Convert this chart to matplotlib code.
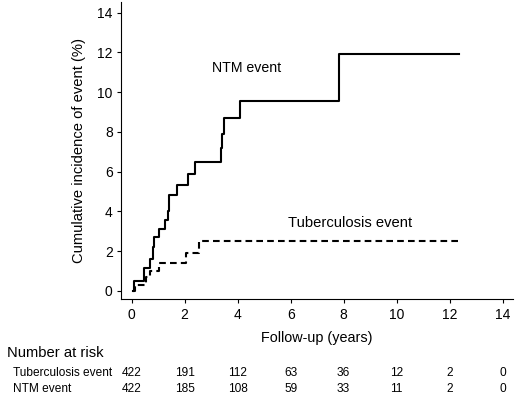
import numpy as np
import matplotlib
matplotlib.use("Agg")
import matplotlib.pyplot as plt

plt.rcParams['font.family'] = ['Liberation Sans', 'DejaVu Sans']

# step curves (years, %)
ntm_t = [0.05, 0.10, 0.475, 0.69, 0.80, 0.85, 1.04, 1.25, 1.375, 1.42, 1.71, 2.125, 2.41, 3.375, 3.42, 3.47, 4.09, 7.83, 12.34]
ntm_y = [0.0, 0.50, 1.17, 1.59, 2.20, 2.70, 3.12, 3.54, 4.00, 4.84, 5.35, 5.90, 6.48, 7.20, 7.90, 8.69, 9.56, 11.94, 11.94]

tb_t = [0.05, 0.125, 0.56, 0.69, 1.04, 2.04, 2.54, 12.34]
tb_y = [0.0, 0.30, 0.70, 1.00, 1.40, 1.92, 2.50, 2.50]

# number at risk table
risk_times = [0, 2, 4, 6, 8, 10, 12, 14]
risk_tb = [422, 191, 112, 63, 36, 12, 2, 0]
risk_ntm = [422, 185, 108, 59, 33, 11, 2, 0]

fig = plt.figure(figsize=(5.2, 3.96), dpi=100)
ax = fig.add_axes([121/520, 1 - 299.3/396, (513 - 121)/520, (299.3 - 2)/396])

ax.plot(ntm_t, ntm_y, drawstyle='steps-post', color='black', lw=1.5)
ax.plot(tb_t, tb_y, drawstyle='steps-post', color='black', lw=1.5,
        linestyle=(0, (3.2, 2.0)))

ax.text(3.02, 11.2, "NTM event", fontsize=10.2, va='center', ha='left')
ax.text(5.9, 3.42, "Tuberculosis event", fontsize=10.6, va='center', ha='left')

ax.set_xlim(-0.4, 14.39)
ax.set_ylim(-0.43, 14.54)
ax.set_xticks(np.arange(0, 15, 2))
ax.set_yticks(np.arange(0, 15, 2))
ax.tick_params(direction='out', length=3, width=0.8, labelsize=10, pad=3)
for s in ['top', 'right']:
    ax.spines[s].set_visible(False)
for s in ['left', 'bottom']:
    ax.spines[s].set_linewidth(0.8)

ax.set_ylabel("Cumulative incidence of event (%)", fontsize=10.6, labelpad=8)
fig.text(317/520, 1 - 338/396, "Follow-up (years)", fontsize=10.4, ha='center', va='center')

# risk table
fig.text(7/520, 1 - 353/396, "Number at risk", fontsize=10.6, ha='left', va='center')
trans = matplotlib.transforms.blended_transform_factory(ax.transData, fig.transFigure)
fig.text(13/520, 1 - 373/396, "Tuberculosis event", fontsize=8.6, ha='left', va='center')
fig.text(13/520, 1 - 389/396, "NTM event", fontsize=8.6, ha='left', va='center')
for t, a, b in zip(risk_times, risk_tb, risk_ntm):
    ax.text(t, 1 - 373/396, str(a), transform=trans, fontsize=8.6, ha='center', va='center')
    ax.text(t, 1 - 389/396, str(b), transform=trans, fontsize=8.6, ha='center', va='center')

fig.savefig("out.png", dpi=100)
